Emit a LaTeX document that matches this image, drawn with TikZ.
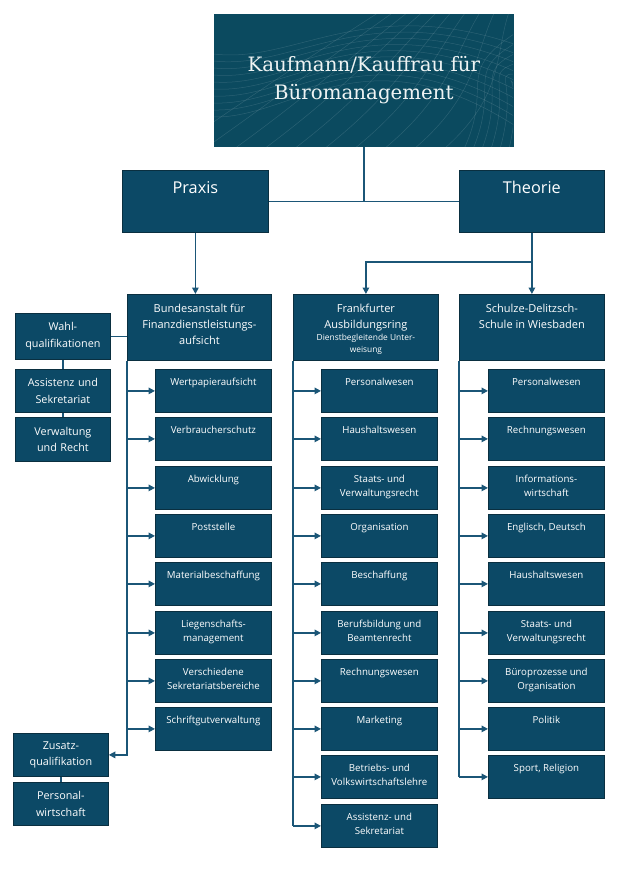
\documentclass[tikz,border=0pt]{standalone}
\usepackage{fontspec}
\setmainfont{Open Sans}
\newfontfamily\titlefont{DejaVu Serif}
\usetikzlibrary{arrows.meta,calc}
\definecolor{boxfill}{HTML}{0C4966}
\definecolor{boxline}{HTML}{0A2F40}
\definecolor{linecol}{HTML}{1B5677}
\definecolor{titlefill}{HTML}{0B4A5F}
\definecolor{titletext}{HTML}{EEF3F3}
% style, name, x, y, width, height, top padding, text
\newcommand\bx[8]{\node[#1] (#2) at (#3,#4) {\parbox[t][#6pt][t]{#5pt}{\centering\vspace*{#7pt}\strut#8}};}
\begin{document}
\begin{tikzpicture}[x=1pt,y=-1pt,
  box/.style={draw=boxline, fill=boxfill, line width=0.8pt, inner sep=0pt, text=white, anchor=north west},
  sub/.style={box, font=\fontsize{9.7}{14.3}\selectfont},
  head/.style={box, font=\fontsize{11}{16.3}\selectfont},
  big/.style={box, font=\fontsize{16.3}{20}\selectfont},
  side/.style={box, align=center, text width=95pt, minimum width=95pt, font=\fontsize{10.8}{16.5}\selectfont},
  conn/.style={draw=linecol, line width=1.5pt},
  arr/.style={conn, -{Triangle[length=6.5pt,width=6.5pt]}},
  deco/.style={draw=white, opacity=0.13, line width=0.5pt},
]
\useasboundingbox (0,0) rectangle (622,880);
\fill[white] (0,0) rectangle (622,880);

% title
\node[box, fill=titlefill, draw=titlefill, minimum width=299pt, minimum height=132pt] (title) at (214,14) {};
\begin{scope}
\clip (214,14) rectangle (513,146);
\begin{scope}[shift={(214,14)}]
\foreach \i in {0,...,9} \draw[deco] (0,{40+7*\i}) .. controls (80,{50+6*\i}) and (150,{-20+4*\i}) .. (300,{30+9*\i});
\foreach \i in {0,...,9} \draw[deco] ({-40+30*\i},135) .. controls ({40+28*\i},80) and ({100+20*\i},40) .. ({170+14*\i},-5);
\foreach \i in {0,...,5} \draw[deco] ({250+9*\i},135) .. controls ({280+6*\i},70) and ({240+10*\i},60) .. (300,{20+10*\i});
\end{scope}
\end{scope}
\node[align=center, text=titletext, font=\titlefont\fontsize{19.8}{28.5}\selectfont] (titletxt) at ($(title.center)+(0,-0.5)$) {Kaufmann/Kauffrau für\\Büromanagement};

% level 1
\bx{big}{praxis}{122}{170}{146}{62}{9.5}{Praxis}
\bx{big}{theorie}{459}{170}{145}{62}{9.5}{Theorie}

% level 2
\bx{head}{bund}{127}{294}{144}{66}{6.5}{Bundesanstalt für\\Finanzdienstleistungs-\\aufsicht}
\bx{head}{frank}{293}{294}{145}{66}{6.5}{Frankfurter\\Ausbildungsring\par\fontsize{8.4}{12}\selectfont Dienstbegleitende Unter-\\weisung}
\bx{head}{schulze}{459}{294}{145}{66}{6.5}{Schulze-Delitzsch-\\Schule in Wiesbaden}

% side boxes
\node[side, minimum height=46pt] (wahl) at (15,313) {Wahl-\\qualifikationen};
\node[side, minimum height=43pt] (assist) at (15,369) {Assistenz und\\Sekretariat};
\node[side, minimum height=44pt] (verw) at (15,417) {Verwaltung\\und Recht};
\node[side, minimum height=43pt] (zus) at (13,733) {Zusatz-\\qualifikation};
\node[side, minimum height=43pt] (pers) at (13,782) {Personal-\\wirtschaft};

% Praxis subs
\bx{sub}{p1}{155}{369}{116}{43}{6}{Wertpapieraufsicht}
\bx{sub}{p2}{155}{417}{116}{43}{6}{Verbraucherschutz}
\bx{sub}{p3}{155}{466}{116}{43}{6}{Abwicklung}
\bx{sub}{p4}{155}{514}{116}{43}{6}{Poststelle}
\bx{sub}{p5}{155}{562}{116}{43}{6}{Materialbeschaffung}
\bx{sub}{p6}{155}{611}{116}{43}{6}{Liegenschafts-\\management}
\bx{sub}{p7}{155}{659}{116}{43}{6}{Verschiedene\\Sekretariatsbereiche}
\bx{sub}{p8}{155}{707}{116}{43}{6}{Schriftgutverwaltung}

% Frankfurt subs
\bx{sub}{m1}{321}{369}{116}{43}{6}{Personalwesen}
\bx{sub}{m2}{321}{417}{116}{43}{6}{Haushaltswesen}
\bx{sub}{m3}{321}{466}{116}{43}{6}{Staats- und\\Verwaltungsrecht}
\bx{sub}{m4}{321}{514}{116}{43}{6}{Organisation}
\bx{sub}{m5}{321}{562}{116}{43}{6}{Beschaffung}
\bx{sub}{m6}{321}{611}{116}{43}{6}{Berufsbildung und\\Beamtenrecht}
\bx{sub}{m7}{321}{659}{116}{43}{6}{Rechnungswesen}
\bx{sub}{m8}{321}{707}{116}{43}{6}{Marketing}
\bx{sub}{m9}{321}{755}{116}{43}{6}{Betriebs- und\\Volkswirtschaftslehre}
\bx{sub}{m10}{321}{804}{116}{43}{6}{Assistenz- und\\Sekretariat}

% Schulze subs
\bx{sub}{r1}{488}{369}{116}{43}{6}{Personalwesen}
\bx{sub}{r2}{488}{417}{116}{43}{6}{Rechnungswesen}
\bx{sub}{r3}{488}{466}{116}{43}{6}{Informations-\\wirtschaft}
\bx{sub}{r4}{488}{514}{116}{43}{6}{Englisch, Deutsch}
\bx{sub}{r5}{488}{562}{116}{43}{6}{Haushaltswesen}
\bx{sub}{r6}{488}{611}{116}{43}{6}{Staats- und\\Verwaltungsrecht}
\bx{sub}{r7}{488}{659}{116}{43}{6}{Büroprozesse und\\Organisation}
\bx{sub}{r8}{488}{707}{116}{43}{6}{Politik}
\bx{sub}{r9}{488}{755}{116}{43}{6}{Sport, Religion}

% connectors top
\draw[conn] (title.south) -- (title.south |- praxis.east);
\draw[conn] (praxis.east) -- (theorie.west);
\draw[arr] (praxis.south) -- (praxis.south |- bund.north);
\draw[arr] (theorie.south) -- (schulze.north);
\coordinate (tb) at ($(theorie.south)+(0,29)$);
\draw[arr] (tb) -| (frank.north);

% side connectors
\draw[conn] (wahl.east) -- (wahl.east -| bund.west);
\draw[conn] (wahl.south) -- (assist.north);
\draw[conn] (assist.south) -- (verw.north);
\draw[conn] (zus.south) -- (pers.north);

% column trunks
\draw[arr] (bund.south west) |- (zus.east);
\draw[conn] (frank.south west) -- (frank.south west |- m10.west);
\draw[conn] (schulze.south west) -- (schulze.south west |- r9.west);

\foreach \n in {p1,p2,p3,p4,p5,p6,p7,p8} \draw[arr] (bund.south west |- \n.west) -- (\n.west);
\foreach \n in {m1,m2,m3,m4,m5,m6,m7,m8,m9,m10} \draw[arr] (frank.south west |- \n.west) -- (\n.west);
\foreach \n in {r1,r2,r3,r4,r5,r6,r7,r8,r9} \draw[arr] (schulze.south west |- \n.west) -- (\n.west);
\end{tikzpicture}
\end{document}
